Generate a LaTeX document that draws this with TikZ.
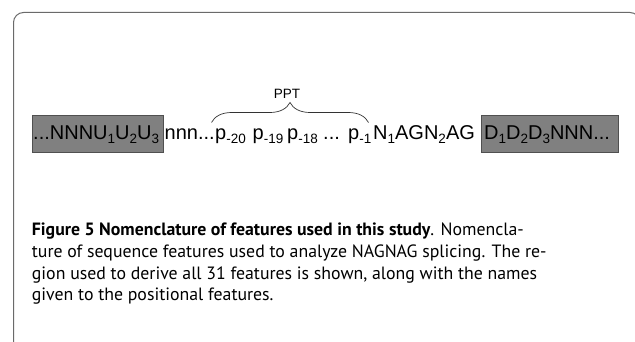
\documentclass[tikz,border=0pt]{standalone}
\usepackage{fontspec}
\setmainfont{Liberation Sans}
\newfontfamily\capfont{PT Sans}
\usetikzlibrary{decorations.pathreplacing}
\definecolor{framegray}{HTML}{6A6A6A}
\definecolor{boxfill}{HTML}{808080}
\definecolor{boxline}{HTML}{505050}
\newcommand\sbs[1]{\raisebox{-0.3ex}{\fontsize{13.5}{13.5}\selectfont #1}}
\begin{document}
\begin{tikzpicture}[x=1pt,y=-1pt,
  seqtext/.style={inner sep=0pt, anchor=base west, font=\fontsize{20}{20}\selectfont},
  seqbox/.style={draw=boxline, fill=boxfill, line width=0.8pt, inner sep=0pt, anchor=north west},
  captext/.style={inner sep=0pt, anchor=base west, font=\capfont\fontsize{17.8}{17.8}\selectfont}]
\useasboundingbox (0,0) rectangle (635,342);
\begin{scope}
\clip (0,0) rectangle (635,342);
\draw[framegray, line width=1pt, rounded corners=10pt] (13.5,360) -- (13.5,12.5) -- (640,12.5) -- (640,360);
\end{scope}
% boxes
\node[seqbox, minimum width=131.3pt, minimum height=37pt] (lbox) at (31.7,114.7) {};
\node[seqbox, minimum width=137pt, minimum height=37pt] (rbox) at (481,114.7) {};
% sequence text
\node[seqtext] (t1) at (33,140) {...NNNU\sbs{1}U\sbs{2}U\sbs{3}};
\node[seqtext] (t2) at (164.5,140) {nnn...};
\node[seqtext] (p20) at (215,140) {p\sbs{-20}};
\node[seqtext] (p19) at (252.5,140) {p\sbs{-19}};
\node[seqtext] (p18) at (287,140) {p\sbs{-18}};
\node[seqtext] (dots) at (323,140) {...};
\node[seqtext] (p1) at (348,140) {p\sbs{-1}};
\node[seqtext] (nag) at (373,140) {N\sbs{1}AGN\sbs{2}AG};
\node[seqtext] (t3) at (484,140) {D\sbs{1}D\sbs{2}D\sbs{3}NNN...};
% brace
\coordinate (bl) at (211.5,122.5);
\coordinate (br) at (368.5,122.5);
\draw[decorate, decoration={brace, amplitude=20pt}, line width=0.7pt, black!80] (bl) -- (br);
\node[inner sep=0pt, anchor=base, font=\fontsize{13.5}{13.5}\selectfont] (ppt) at (287,99) {PPT};
% caption
\node[captext] (c1) at (31.7,236) {\textbf{Figure 5 Nomenclature of features used in this study}. Nomencla-};
\node[captext] (c2) at (31.7,257.5) {ture of sequence features used to analyze NAGNAG splicing. The re-};
\node[captext] (c3) at (31.7,279) {gion used to derive all 31 features is shown, along with the names};
\node[captext] (c4) at (31.7,300.5) {given to the positional features.};
\end{tikzpicture}
\end{document}
